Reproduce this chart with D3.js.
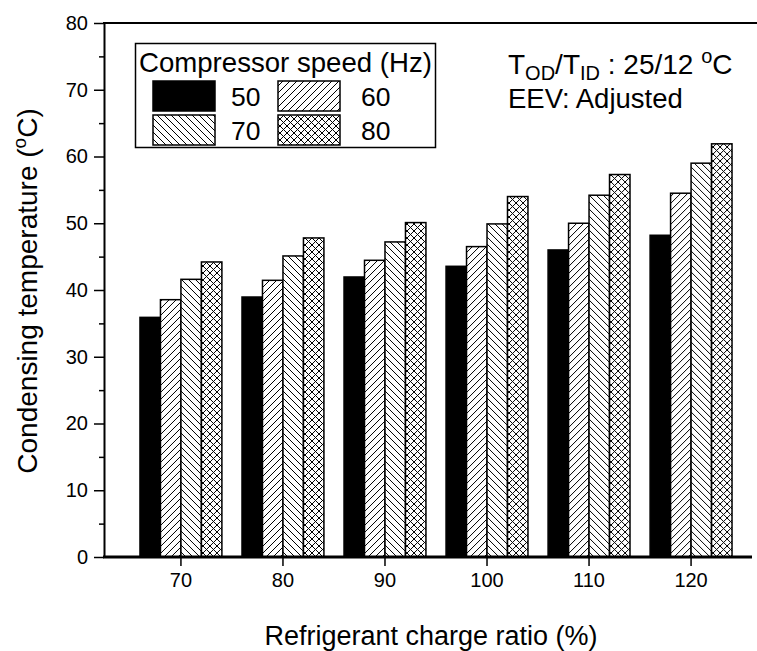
<!DOCTYPE html>
<html>
<head>
<meta charset="utf-8">
<script src="https://cdn.jsdelivr.net/npm/d3@7"></script>
<style>
  html, body { margin: 0; padding: 0; background: #fff; }
  text { font-family: "Liberation Sans", Arial, sans-serif; fill: #000; }
</style>
</head>
<body>
<svg id="chart" width="757" height="651"></svg>
<script>
// ---- data ----
const categories = ["70", "80", "90", "100", "110", "120"];
const seriesNames = ["50", "60", "70", "80"];
const speed50 = [35.9, 38.95, 41.95, 43.55, 46.0, 48.2];
const speed60 = [38.55, 41.45, 44.45, 46.5, 50.0, 54.5];
const speed70 = [41.6, 45.1, 47.2, 49.9, 54.2, 59.0];
const speed80 = [44.2, 47.8, 50.1, 54.0, 57.3, 61.9];
const yTicks = [0, 10, 20, 30, 40, 50, 60, 70, 80];
const yMinorTicks = [5, 15, 25, 35, 45, 55, 65, 75];

const seriesValues = [speed50, speed60, speed70, speed80];
const table = categories.map((c, i) => ({
  cat: c,
  vals: seriesNames.map((s, j) => ({ key: s, value: seriesValues[j][i] }))
}));

const svg = d3.select("#chart");
const plotL = 104, plotR = 768, plotT = 23, plotB = 557;

const x0 = d3.scaleBand().domain(categories).range([plotL, plotR])
  .paddingInner(0.197).paddingOuter(0.3526);
const x1 = d3.scaleBand().domain(seriesNames).range([0, x0.bandwidth()]).padding(0);
const y = d3.scaleLinear().domain([0, 80]).range([plotB, plotT]);

// ---- patterns ----
const defs = svg.append("defs");
function linePattern(id, kinds) {
  const s = 7;
  const p = defs.append("pattern").attr("id", id)
    .attr("patternUnits", "userSpaceOnUse").attr("width", s).attr("height", s);
  p.append("rect").attr("width", s).attr("height", s).attr("fill", "#fff");
  kinds.forEach(k => {
    if (k === "fwd") {
      p.append("path").attr("d", `M0,${s} L${s},0 M-1,1 L1,-1 M${s-1},${s+1} L${s+1},${s-1}`)
        .attr("stroke", "#000").attr("stroke-width", 1);
    } else {
      p.append("path").attr("d", `M0,0 L${s},${s} M-1,${s-1} L1,${s+1} M${s-1},-1 L${s+1},1`)
        .attr("stroke", "#000").attr("stroke-width", 1);
    }
  });
}
linePattern("p60", ["fwd"]);
linePattern("p70", ["back"]);
linePattern("p80", ["fwd", "back"]);
const fills = { "50": "#000", "60": "url(#p60)", "70": "url(#p70)", "80": "url(#p80)" };

// ---- bars ----
const groups = svg.append("g").selectAll("g").data(table).join("g")
  .attr("transform", d => `translate(${x0(d.cat)},0)`);
groups.selectAll("rect").data(d => d.vals).join("rect")
  .attr("x", d => x1(d.key))
  .attr("y", d => y(d.value))
  .attr("width", x1.bandwidth())
  .attr("height", d => y(0) - y(d.value))
  .attr("fill", d => fills[d.key])
  .attr("stroke", "#000")
  .attr("stroke-width", 1.5);

// ---- axes ----
const yAxis = d3.axisLeft(y).tickValues(yTicks).tickSize(10).tickSizeOuter(0).tickPadding(6);
const gy = svg.append("g").attr("transform", `translate(${plotL},0)`).call(yAxis);
gy.select(".domain").attr("stroke-width", 2);
gy.selectAll(".tick line").attr("stroke-width", 1.5);
gy.selectAll(".tick text").style("font-size", "20px").style("font-family", "Liberation Sans, Arial, sans-serif");
const yMinor = d3.axisLeft(y).tickValues(yMinorTicks).tickSize(5).tickFormat("");
const gym = svg.append("g").attr("transform", `translate(${plotL},0)`).call(yMinor);
gym.select(".domain").remove();
gym.selectAll(".tick line").attr("stroke-width", 1.5);

const xAxis = d3.axisBottom(x0).tickSize(9).tickSizeOuter(0).tickPadding(7);
const gx = svg.append("g").attr("transform", `translate(0,${plotB})`).call(xAxis);
gx.select(".domain").remove();
gx.selectAll(".tick line").attr("stroke-width", 1.5);
gx.selectAll(".tick text").style("font-size", "20px").style("font-family", "Liberation Sans, Arial, sans-serif");
svg.append("line").attr("x1", plotL - 1).attr("x2", 752).attr("y1", plotB).attr("y2", plotB)
  .attr("stroke", "#000").attr("stroke-width", 3);
svg.append("line").attr("x1", plotL - 1).attr("x2", 757).attr("y1", plotT).attr("y2", plotT)
  .attr("stroke", "#000").attr("stroke-width", 2);

// ---- axis titles ----
const yt = svg.append("text").attr("transform", "translate(37,291) rotate(-90)")
  .attr("text-anchor", "middle").style("font-size", "28px");
yt.append("tspan").text("Condensing temperature (");
yt.append("tspan").attr("dy", -11).style("font-size", "19px").text("o");
yt.append("tspan").attr("dy", 11).text("C)");

svg.append("text").attr("x", 431).attr("y", 645).attr("text-anchor", "middle")
  .style("font-size", "27px").text("Refrigerant charge ratio (%)");

// ---- legend ----
const lg = svg.append("g");
lg.append("rect").attr("x", 135.5).attr("y", 43.5).attr("width", 300).attr("height", 104)
  .attr("fill", "#fff").attr("stroke", "#000").attr("stroke-width", 1.5);
lg.append("text").attr("x", 139).attr("y", 72).style("font-size", "27.6px").text("Compressor speed (Hz)");
const legPos = [
  { sx: 153, sy: 81, tx: 231, ty: 106 },
  { sx: 278, sy: 81, tx: 361, ty: 106 },
  { sx: 153, sy: 115, tx: 231, ty: 140 },
  { sx: 278, sy: 115, tx: 361, ty: 140 }
];
seriesNames.forEach((s, i) => {
  const p = legPos[i];
  lg.append("rect").attr("x", p.sx).attr("y", p.sy).attr("width", 62).attr("height", 30)
    .attr("fill", fills[s]).attr("stroke", "#000").attr("stroke-width", 1.5);
  lg.append("text").attr("x", p.tx).attr("y", p.ty).style("font-size", "26.5px").text(s);
});

// ---- annotation ----
const an = svg.append("text").attr("x", 508).attr("y", 74).style("font-size", "28px");
an.append("tspan").text("T");
an.append("tspan").attr("dy", 6).style("font-size", "20px").text("OD");
an.append("tspan").attr("dy", -6).text("/T");
an.append("tspan").attr("dy", 6).style("font-size", "20px").text("ID");
an.append("tspan").attr("dy", -6).text(" : 25/12 ");
an.append("tspan").attr("dy", -11).style("font-size", "20px").text("o");
an.append("tspan").attr("dy", 11).text("C");
svg.append("text").attr("x", 508).attr("y", 108).style("font-size", "27.5px").text("EEV: Adjusted");
</script>
</body>
</html>
